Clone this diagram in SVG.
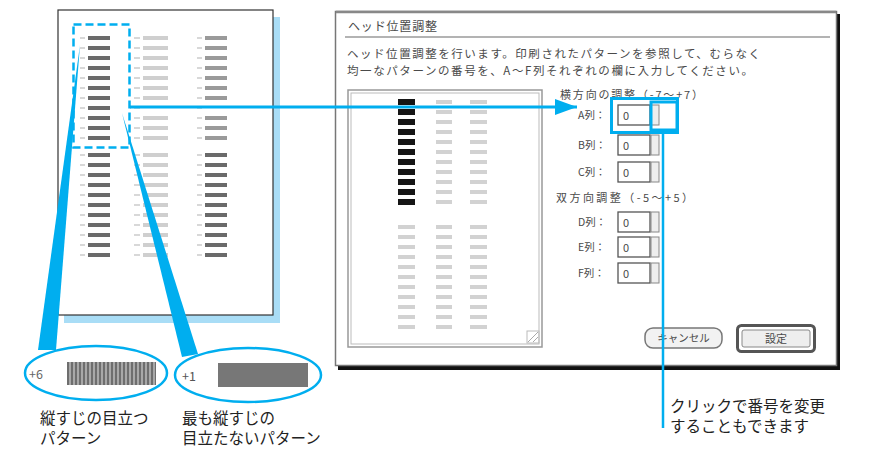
<svg xmlns="http://www.w3.org/2000/svg" width="876" height="468" viewBox="0 0 876 468">
<style>
.t{font-family:"Noto Sans CJK JP","Noto Sans",sans-serif;}
.lbl{font-family:"Noto Sans CJK JP",sans-serif;font-size:15.5px;fill:#222;}
.dlg{font-family:"Noto Sans CJK JP",sans-serif;fill:#4a4a4a;}
.cy{stroke:#00AEEF;fill:none;}
.fld{fill:#fff;stroke:#555;stroke-width:1.3;}
.spn{fill:#eee;stroke:#888;stroke-width:1;}
</style>
<defs>
<pattern id="pDark" x="0" y="0" width="10" height="10" patternUnits="userSpaceOnUse"><rect width="10" height="4" fill="#6a6a6a"/></pattern>
<pattern id="pMid" x="0" y="0" width="10" height="10" patternUnits="userSpaceOnUse"><rect width="10" height="4" fill="#9a9a9a"/></pattern>
<pattern id="pLight" x="0" y="0" width="10" height="10" patternUnits="userSpaceOnUse"><rect width="10" height="4" fill="#cfcfcf"/></pattern>
<pattern id="pTick" x="0" y="0" width="10" height="10" patternUnits="userSpaceOnUse"><rect y="1" width="10" height="2" fill="#d8d8d8"/></pattern>
<pattern id="dBlack" x="0" y="0" width="10" height="10" patternUnits="userSpaceOnUse"><rect width="10" height="6" fill="#151515"/></pattern>
<pattern id="dLight" x="0" y="0" width="10" height="10" patternUnits="userSpaceOnUse"><rect y="1" width="10" height="4" fill="#d2d2d2"/></pattern>
<pattern id="stripes" x="67" y="0" width="4" height="10" patternUnits="userSpaceOnUse"><rect width="4" height="10" fill="#a8a8a8"/><rect width="2" height="10" fill="#6e6e6e"/></pattern>
<marker id="ah" markerUnits="userSpaceOnUse" markerWidth="22" markerHeight="16" refX="22" refY="8" orient="auto"><path d="M0,0 L22,8 L0,16 z" fill="#00AEEF"/></marker>
</defs>

<g id="page">
<rect x="64" y="17" width="216" height="306" fill="#a9ddf6"/>
<rect x="58" y="10" width="215" height="305" fill="#fff" stroke="#333" stroke-width="1.2"/>
<g transform="translate(0,36)">
<rect x="88" y="0" width="22" height="110" fill="url(#pDark)"/>
<rect x="143" y="0" width="25" height="70" fill="url(#pLight)"/>
<rect x="143" y="80" width="25" height="30" fill="url(#pLight)"/>
<rect x="205" y="0" width="22" height="70" fill="url(#pMid)"/>
<rect x="205" y="80" width="22" height="30" fill="url(#pMid)"/>
<rect x="80" y="0" width="5" height="110" fill="url(#pTick)"/>
<rect x="134" y="0" width="6" height="110" fill="url(#pTick)"/>
<rect x="197" y="0" width="5" height="110" fill="url(#pTick)"/>
</g>
<g transform="translate(0,153)">
<rect x="88" y="0" width="22" height="110" fill="url(#pDark)"/>
<rect x="143" y="0" width="25" height="110" fill="url(#pLight)"/>
<rect x="205" y="0" width="22" height="110" fill="url(#pDark)"/>
<rect x="80" y="0" width="5" height="110" fill="url(#pTick)"/>
<rect x="134" y="0" width="6" height="110" fill="url(#pTick)"/>
<rect x="197" y="0" width="5" height="110" fill="url(#pTick)"/>
</g>
<rect x="73.5" y="24.5" width="56" height="123" class="cy" stroke-width="2.5" stroke-dasharray="8,4"/>
</g>

<g id="dialog">
<rect x="338" y="14" width="502" height="356" fill="#111"/>
<rect x="335.5" y="11.5" width="501" height="354" fill="#fff" stroke="#777" stroke-width="1.5"/>
<line x1="336" y1="12" x2="836" y2="12" stroke="#888" stroke-width="2.5"/>
<text class="dlg" x="348" y="31" font-size="12" textLength="89">ヘッド位置調整</text>
<line x1="345" y1="37" x2="830" y2="37" stroke="#9a9a9a" stroke-width="1.5"/>
<text class="dlg" x="347" y="58" font-size="11.5" textLength="413">ヘッド位置調整を行います。印刷されたパターンを参照して、むらなく</text>
<text class="dlg" x="347" y="75" font-size="11.5" textLength="406">均一なパターンの番号を、A～F列それぞれの欄に入力してください。</text>
<rect x="348" y="90" width="194" height="257" fill="#fff" stroke="#999" stroke-width="1.5"/>
<rect x="351" y="93" width="188" height="251" fill="none" stroke="#bbb" stroke-width="1"/>
<g transform="translate(0,99)">
<rect x="398" y="0" width="17" height="110" fill="url(#dBlack)"/>
<rect x="436" y="0" width="16" height="110" fill="url(#dLight)"/>
<rect x="470" y="0" width="17" height="110" fill="url(#dLight)"/>
</g>
<g transform="translate(0,224)">
<rect x="398" y="0" width="17" height="110" fill="url(#dLight)"/>
<rect x="436" y="0" width="16" height="110" fill="url(#dLight)"/>
<rect x="470" y="0" width="17" height="110" fill="url(#dLight)"/>
</g>
<path d="M528,342 L538,332 M533,342 L538,337" stroke="#aaa" stroke-width="1"/>
<rect x="527" y="331" width="12" height="12" fill="none" stroke="#bbb" stroke-width="1"/>

<text class="dlg" x="560" y="99" font-size="11" textLength="143">横方向の調整（-7～+7）</text>
<text class="dlg" x="556" y="202" font-size="11" textLength="137">双方向調整（-5～+5）</text>

<g id="rowA"><text class="dlg" x="578" y="119" font-size="10.5">A列：</text><rect class="fld" x="618" y="105" width="32" height="20"/><rect class="spn" x="651" y="105" width="8" height="20"/><text class="dlg" x="623" y="120" font-size="11">0</text></g>
<g id="rowB"><text class="dlg" x="578" y="149" font-size="10.5">B列：</text><rect class="fld" x="618" y="135" width="32" height="20"/><rect class="spn" x="651" y="135" width="8" height="20"/><text class="dlg" x="623" y="150" font-size="11">0</text></g>
<g id="rowC"><text class="dlg" x="578" y="176" font-size="10.5">C列：</text><rect class="fld" x="618" y="162" width="32" height="20"/><rect class="spn" x="651" y="162" width="8" height="20"/><text class="dlg" x="623" y="177" font-size="11">0</text></g>
<g id="rowD"><text class="dlg" x="578" y="226" font-size="10.5">D列：</text><rect class="fld" x="618" y="212" width="32" height="20"/><rect class="spn" x="651" y="212" width="8" height="20"/><text class="dlg" x="623" y="227" font-size="11">0</text></g>
<g id="rowE"><text class="dlg" x="578" y="251" font-size="10.5">E列：</text><rect class="fld" x="618" y="237" width="32" height="20"/><rect class="spn" x="651" y="237" width="8" height="20"/><text class="dlg" x="623" y="252" font-size="11">0</text></g>
<g id="rowF"><text class="dlg" x="578" y="277" font-size="10.5">F列：</text><rect class="fld" x="618" y="263" width="32" height="20"/><rect class="spn" x="651" y="263" width="8" height="20"/><text class="dlg" x="623" y="278" font-size="11">0</text></g>

<g id="btnCancel"><rect x="645" y="328" width="77" height="20" rx="8" fill="#f2f2f2" stroke="#777" stroke-width="1.5"/><text class="dlg" x="683.5" y="342" font-size="10.5" text-anchor="middle">キャンセル</text></g>
<g id="btnOK"><rect x="737.5" y="325.5" width="77" height="26" rx="4" fill="#fff" stroke="#555" stroke-width="3"/><rect x="742" y="330" width="68" height="17" rx="2" fill="#eee" stroke="#888" stroke-width="1"/><text class="dlg" x="776" y="343" font-size="11" text-anchor="middle">設定</text></g>
</g>

<g id="callout-left">
<ellipse cx="96" cy="373" rx="71" ry="27" fill="#fff" class="cy" stroke-width="2.5"/>
<text class="t" x="29" y="379" font-size="12.5" fill="#666">+6</text>
<rect x="67" y="362" width="89" height="23" fill="url(#stripes)"/>
<text class="lbl" x="40" y="424">縦すじの目立つ</text>
<text class="lbl" x="40" y="444">パターン</text>
</g>

<g id="callout-right">
<ellipse cx="248" cy="375" rx="73" ry="27" fill="#fff" class="cy" stroke-width="2.5"/>
<text class="t" x="182" y="381" font-size="12.5" fill="#555">+1</text>
<rect x="218" y="363" width="90" height="24" fill="#777"/>
<text class="lbl" x="182" y="424">最も縦すじの</text>
<text class="lbl" x="182" y="444">目立たないパターン</text>
</g>

<g id="note">
<text class="lbl" x="670" y="412">クリックで番号を変更</text>
<text class="lbl" x="670" y="432">することもできます</text>
</g>

<g id="connectors">
<line x1="130" y1="107" x2="577" y2="107" stroke="#00AEEF" stroke-width="3" marker-end="url(#ah)"/>
<polygon points="80,45 38,350 56,350" fill="#00AEEF"/>
<polygon points="122,113 182,357 198,354" fill="#00AEEF"/>
<line x1="663" y1="130" x2="663" y2="428" stroke="#00AEEF" stroke-width="2.5"/>
<rect x="611.5" y="98.5" width="66" height="34" class="cy" stroke-width="3"/>
<rect x="651" y="102" width="26" height="28" class="cy" stroke-width="3"/>
</g>
</svg>
